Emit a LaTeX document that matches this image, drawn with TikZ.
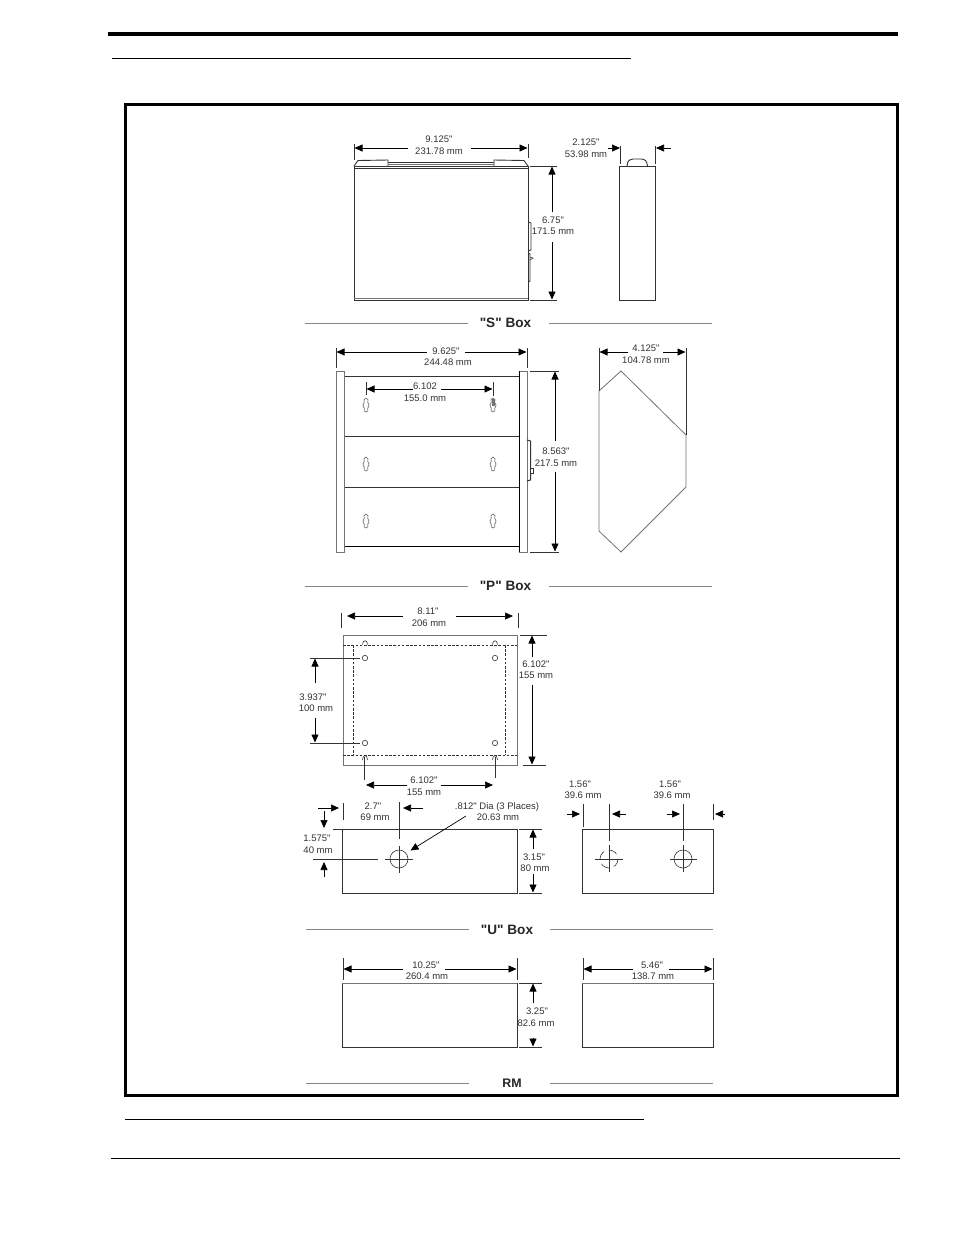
\documentclass[tikz,border=0pt]{standalone}
\usepackage{fontspec}
\setmainfont{Liberation Sans}[Ligatures=TeXOff]
\usetikzlibrary{arrows.meta}
\definecolor{ink}{gray}{0.2}
\definecolor{soft}{gray}{0.45}
\definecolor{rulegray}{gray}{0.52}
\tikzset{
  dimt/.style={inner sep=0pt,text=ink,font=\fontsize{9.5}{11}\selectfont},
  ttl/.style={inner sep=0pt,text=black!85,font=\fontsize{13.6}{15}\selectfont\bfseries},
  ol/.style={draw=ink,line width=0.9pt},
  ext/.style={draw=ink,line width=0.6pt},
  sft/.style={draw=soft,line width=1pt},
  tip/.style={draw=black,line width=0.7pt,-{Triangle[length=8pt,width=7pt]}},
  lab/.style={draw=rulegray,line width=1pt},
  dsh/.style={draw=ink,line width=0.6pt,dash pattern=on 2.6pt off 1.6pt},
  key/.style={draw=soft,line width=0.7pt,fill=white},
}
\newcommand{\keyhole}[2]{\draw[key] (#1,#2-7) .. controls (#1+2.2,#2-7) and (#1+2.4,#2-4) .. (#1+1.8,#2-2.5) .. controls (#1+2.6,#2-1.5) and (#1+3,#2-0.5) .. (#1+3,#2) .. controls (#1+3,#2+1.5) and (#1+2,#2+2.5) .. (#1+1.8,#2+3) .. controls (#1+2.4,#2+5) and (#1+2,#2+7) .. (#1,#2+7) .. controls (#1-2,#2+7) and (#1-2.4,#2+5) .. (#1-1.8,#2+3) .. controls (#1-2,#2+2.5) and (#1-3,#2+1.5) .. (#1-3,#2) .. controls (#1-3,#2-0.5) and (#1-2.6,#2-1.5) .. (#1-1.8,#2-2.5) .. controls (#1-2.4,#2-4) and (#1-2.2,#2-7) .. (#1,#2-7) -- cycle;}
\begin{document}
\begin{tikzpicture}[x=1pt,y=-1pt]
\useasboundingbox (0,0) rectangle (954,1235);
\fill[white] (0,0) rectangle (954,1235);
% page rules and frame
\draw[line width=4pt] (108,34) -- (898,34);
\draw[line width=1pt] (112,58) -- (631,58);
\draw[line width=1pt] (125,1119) -- (644,1119);
\draw[line width=1pt] (111,1158) -- (900,1158);
\draw[line width=3pt] (125,104) rectangle (897,1095);

% ---------- S box, front
\draw[ol] (354,166) rectangle (528,300);
\draw[ol] (354,168) -- (528,168);
\draw[sft] (354,298.5) -- (528,298.5);
\draw[ol] (354,166) -- (358,160.5) -- (388,160) -- (388,166);
\draw[ol] (494,166) -- (494,160) -- (524,160.5) -- (528,166);
\draw[ol] (388,162) -- (494,162);
\draw[sft] (388,164.5) -- (494,164.5);
\draw[ol] (528,222) -- (531,223) -- (531,250) -- (528,251);
\draw[ol] (528,253) -- (530,254) -- (530,281) -- (528,282);
\draw[ext] (530,257) -- (533,258) -- (530,260);
% S front dims
\draw[ext] (354,144) -- (354,160);
\draw[ext] (528,144) -- (528,158);
\coordinate (s1) at (408,148); \coordinate (s2) at (471,148);
\draw[tip] (s1) -- (354.5,148);
\draw[tip] (s2) -- (527.5,148);
\node[dimt] (sw1) at (439,139.5) {9.125"};
\node[dimt] (sw2) at (439,151.5) {231.78 mm};
\draw[ext] (530,166) -- (557,166);
\draw[ext] (530,300) -- (557,300);
\draw[tip] (552,212) -- (552,166.5);
\draw[tip] (552,242) -- (552,299.5);
\node[dimt] (sh1) at (553,220) {6.75"};
\node[dimt] (sh2) at (553,231) {171.5 mm};
% S side
\draw[ol] (619.5,166) rectangle (655,300);
\draw[ol] (627,166) .. controls (627.5,160) and (630,159) .. (633,159) -- (641,159) .. controls (645,159) and (647,161) .. (647.5,166);
\draw[ext] (620.5,146) -- (620.5,164);
\draw[ext] (655,146) -- (655,164);
\draw[tip] (608,148) -- (620,148);
\draw[tip] (671,148) -- (656,148);
\node[dimt] (sd1) at (586,142.5) {2.125"};
\node[dimt] (sd2) at (586,154) {53.98 mm};
% S label
\draw[lab] (305,323) -- (468,323);
\draw[lab] (549,323) -- (712,323);
\node[ttl] (st) at (505.5,322.5) {"S" Box};

% ---------- P box, front
\draw[ol] (344,376) -- (519,376);
\draw[ol] (344,436) -- (519,436);
\draw[ol] (344,487) -- (519,487);
\draw[draw=black,line width=0.9pt] (344,546) -- (519,546);
\draw[sft] (336,371) rectangle (344,552);
\draw[sft] (519,371) -- (527,371) -- (527,552) -- (519,552);
\draw[draw=black,line width=0.9pt] (519,371) -- (519,552);
\foreach \kx in {366,493}{
  \keyhole{\kx}{405}
  \keyhole{\kx}{464}
  \keyhole{\kx}{521}
}
\fill[soft] (491.5,399) rectangle (494.5,406);
\draw[draw=ink,line width=1pt] (527,440) -- (530.5,441) -- (530.5,480) -- (527,481);
\draw[ol,fill=white] (530.5,468) rectangle (533,473);
% P dims
\draw[ext] (336,348) -- (336,368);
\draw[ext] (527,348) -- (527,368);
\draw[tip] (427,352) -- (336.5,352);
\draw[tip] (465,352) -- (526.5,352);
\node[dimt] (pw1) at (446,351) {9.625"};
\node[dimt] (pw2) at (448,362) {244.48 mm};
\draw[ext] (366,382) -- (366,395);
\draw[ext] (493,382) -- (493,396);
\draw[tip] (413,389) -- (366.5,389);
\draw[tip] (441,389) -- (492.5,389);
\node[dimt] (pk1) at (425,386) {6.102};
\node[dimt] (pk2) at (425,398) {155.0 mm};
\draw[ext] (530,371) -- (559,371);
\draw[ext] (530,552) -- (559,552);
\draw[tip] (555,441) -- (555,371.5);
\draw[tip] (555,472) -- (555,551.5);
\node[dimt] (ph1) at (556,451) {8.563"};
\node[dimt] (ph2) at (556,463) {217.5 mm};
% P side
\draw[draw=soft,line width=0.8pt] (599,391) -- (621,371) -- (686,435) -- (686,487) -- (621,552) -- (599,531) -- cycle;
\draw[ext] (599,348) -- (599,391);
\draw[ext] (686,348) -- (686,435);
\draw[tip] (628,352) -- (599.5,352);
\draw[tip] (663,352) -- (685.5,352);
\node[dimt] (pd1) at (646,348) {4.125"};
\node[dimt] (pd2) at (646,360) {104.78 mm};
% P label
\draw[lab] (305,586) -- (468,586);
\draw[lab] (549,586) -- (712,586);
\node[ttl] (pt) at (505.5,586) {"P" Box};

% ---------- U box, top view
\draw[sft,line width=0.9pt] (343,635) rectangle (517,765);
\draw[dsh] (343,645) -- (517,645);
\draw[dsh] (343,755) -- (517,755);
\draw[dsh] (353,645) -- (353,755);
\draw[dsh] (505,645) -- (505,755);
\foreach \hx in {365,495}{
  \draw[ext] (\hx,658) circle (2.7);
  \draw[ext] (\hx,743) circle (2.7);
  \draw[ext] (\hx-2.5,644.5) .. controls (\hx-2.5,639.5) and (\hx+2.5,639.5) .. (\hx+2.5,644.5);
  \draw[ext] (\hx-2.5,760) .. controls (\hx-2.5,754) and (\hx+2.5,754) .. (\hx+2.5,760);
}
% U top dims
\draw[ext] (341,613) -- (341,628);
\draw[ext] (518,613) -- (518,628);
\draw[tip] (403,616) -- (347,616);
\draw[tip] (456,616) -- (513,616);
\node[dimt] (u1a) at (428,611) {8.11"};
\node[dimt] (u1b) at (429,623) {206 mm};
\draw[ext] (520,635) -- (547,635);
\draw[ext] (523,765) -- (546,765);
\draw[tip] (532,657) -- (532,635.5);
\draw[tip] (532,685) -- (532,764.5);
\node[dimt] (u2a) at (536,664) {6.102"};
\node[dimt] (u2b) at (536,675) {155 mm};
\draw[ext] (310,658) -- (360,658);
\draw[ext] (310,743) -- (360,743);
\draw[tip] (315,683) -- (315,658.5);
\draw[tip] (315,718) -- (315,742.5);
\node[dimt] (u3a) at (313,697) {3.937"};
\node[dimt] (u3b) at (316,708) {100 mm};
\draw[ext] (364,757) -- (364,780);
\draw[ext] (495,757) -- (495,778);
\draw[tip] (407,785) -- (366,785);
\draw[tip] (441,785) -- (493,785);
\node[dimt] (u4a) at (424,780) {6.102"};
\node[dimt] (u4b) at (424,792) {155 mm};

% ---------- U box, front
\draw[ol] (342,829) rectangle (517,893);
\draw[ext] (399,859) circle (9);
\draw[ext] (385,859) -- (413,859);
\draw[ext] (399,846) -- (399,873);
\draw[ext] (343,803) -- (343,820);
\draw[ext] (399,802) -- (399,839);
\draw[tip] (318,808) -- (339,808);
\draw[tip] (423,808) -- (403,808);
\node[dimt] (u5a) at (373,806) {2.7"};
\node[dimt] (u5b) at (375,817) {69 mm};
\draw[ext] (333,829) -- (342,829);
\draw[ext] (313,859) -- (378,859);
\draw[tip] (324,811) -- (324,828);
\draw[tip] (324,877) -- (324,862);
\node[dimt] (u6a) at (317,838) {1.575"};
\node[dimt] (u6b) at (318,850) {40 mm};
\node[dimt] (u7a) at (497,807) {.812" Dia (3 Places)};
\node[dimt] (u7b) at (498,817) {20.63 mm};
\coordinate (lead) at (466,816);
\coordinate (leadtip) at (410.5,850.5);
\draw[tip] (lead) -- (leadtip);
\draw[ext] (519,829) -- (542,829);
\draw[ext] (519,893) -- (542,893);
\draw[tip] (533,849) -- (533,829.5);
\draw[tip] (533,874) -- (533,892.5);
\node[dimt] (u8a) at (534,857) {3.15"};
\node[dimt] (u8b) at (535,868) {80 mm};
% U side
\draw[ol] (582,829) rectangle (713,893);
\draw[ext,dash pattern=on 9pt off 5pt] (609,859) circle (9);
\draw[ext] (595,859) -- (623,859);
\draw[ext] (609,845) -- (609,872);
\draw[ext] (683,859) circle (9);
\draw[ext] (670,859) -- (697,859);
\draw[ext] (683,845) -- (683,872);
\draw[ext] (583,804) -- (583,827);
\draw[ext] (609,804) -- (609,841);
\draw[ext] (683,804) -- (683,841);
\draw[ext] (713,804) -- (713,820);
\draw[tip] (567,814) -- (580,814);
\draw[tip] (626,814) -- (612,814);
\draw[tip] (667,814) -- (680,814);
\draw[tip] (725,814) -- (715,814);
\node[dimt] (u9a) at (580,784) {1.56"};
\node[dimt] (u9b) at (583,795) {39.6 mm};
\node[dimt] (u10a) at (670,784) {1.56"};
\node[dimt] (u10b) at (672,795) {39.6 mm};
% U label
\draw[lab] (306,929) -- (469,929);
\draw[lab] (550,929) -- (713,929);
\node[ttl] (ut) at (507,929.5) {"U" Box};

% ---------- RM
\draw[ol] (342,983) rectangle (517,1047);
\draw[sft] (342,983) -- (517,983);
\draw[ol] (582,983) rectangle (713,1047);
\draw[sft] (582,983) -- (713,983);
\draw[ext] (343,958) -- (343,980);
\draw[ext] (517,958) -- (517,980);
\draw[tip] (403,969) -- (343.5,969);
\draw[tip] (445,969) -- (516.5,969);
\node[dimt] (r1a) at (426,965) {10.25"};
\node[dimt] (r1b) at (427,976) {260.4 mm};
\draw[ext] (583,958) -- (583,980);
\draw[ext] (713,958) -- (713,980);
\draw[tip] (633,969) -- (583.5,969);
\draw[tip] (669,969) -- (712.5,969);
\node[dimt] (r2a) at (652,965) {5.46"};
\node[dimt] (r2b) at (653,976) {138.7 mm};
\draw[ext] (519,983) -- (542,983);
\draw[ext] (519,1047) -- (542,1047);
\draw[tip] (533,1003) -- (533,983.5);
\draw[tip] (533,1038) -- (533,1046.5);
\node[dimt] (r3a) at (537,1011) {3.25"};
\node[dimt] (r3b) at (536,1023) {82.6 mm};
\draw[draw=rulegray,line width=0.8pt] (306,1083) -- (469,1083);
\draw[draw=rulegray,line width=0.8pt] (550,1083) -- (713,1083);
\node[ttl,font=\fontsize{12.4}{14}\selectfont\bfseries] (rt) at (512,1083) {RM};
\end{tikzpicture}
\end{document}
